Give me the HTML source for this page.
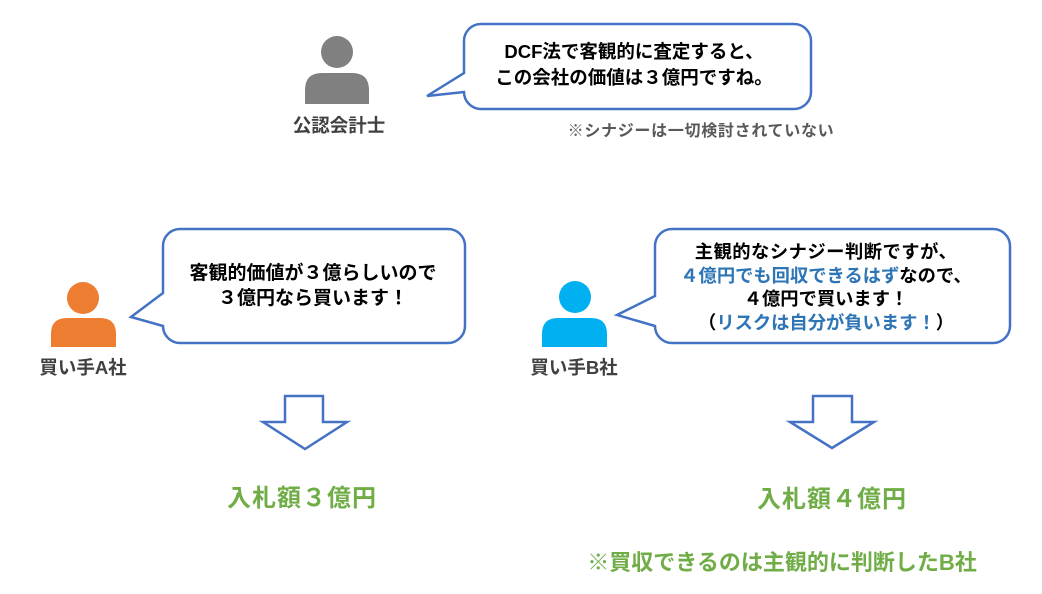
<!DOCTYPE html>
<html>
<head>
<meta charset="utf-8">
<style>
  html, body { margin:0; padding:0; }
  body { width:1042px; height:594px; background:#ffffff; position:relative; overflow:hidden;
         font-family:"Liberation Sans","Noto Sans CJK JP",sans-serif; font-weight:bold; }
  svg { position:absolute; left:0; top:0; }
  .t { position:absolute; text-align:center; white-space:nowrap; }
  .bub { color:#000; font-size:18.5px; }
  .lbl { color:#404040; font-size:18.5px; line-height:24px; }
  .blue { color:#2E75B6; }
  .green { color:#70AD47; }
</style>
</head>
<body>
<svg width="1042" height="594" viewBox="0 0 1042 594">
  <!-- bubbles -->
  <path d="M481,24 H794 A17,17 0 0 1 811,41 V92 A17,17 0 0 1 794,109 H481 A17,17 0 0 1 464,92 L427,96 L464,73 V41 A17,17 0 0 1 481,24 Z"
        fill="#fff" stroke="#4472C4" stroke-width="2.5" stroke-linejoin="miter"/>
  <path d="M180,229 H448 A17,17 0 0 1 465,246 V326 A17,17 0 0 1 448,343 H180 A17,17 0 0 1 163,326 L131,317 L163,293 V246 A17,17 0 0 1 180,229 Z"
        fill="#fff" stroke="#4472C4" stroke-width="2.5"/>
  <path d="M672,229 H993 A17,17 0 0 1 1010,246 V326 A17,17 0 0 1 993,343 H672 A17,17 0 0 1 655,326 L617,315 L655,296 V246 A17,17 0 0 1 672,229 Z"
        fill="#fff" stroke="#4472C4" stroke-width="2.5"/>
  <!-- arrows -->
  <path d="M285,396 H323 V422 H347 L305,449 L263,422 H285 Z" fill="#fff" stroke="#4472C4" stroke-width="2.5"/>
  <path d="M813,396 H852 V422 H874 L832,448 L790,422 H813 Z" fill="#fff" stroke="#4472C4" stroke-width="2.5"/>
  <!-- persons -->
  <circle cx="337" cy="52" r="16" fill="#808080"/>
  <path d="M305,104 V90 Q305,73 322,73 H352 Q369,73 369,90 V104 Z" fill="#808080"/>
  <circle cx="83" cy="298" r="16" fill="#ED7D31"/>
  <path d="M51,347 V334 Q51,318 67,318 H100 Q116,318 116,334 V347 Z" fill="#ED7D31"/>
  <circle cx="575" cy="297" r="16" fill="#00B0F0"/>
  <path d="M542,347 V334 Q542,318 558,318 H591 Q607,318 607,334 V347 Z" fill="#00B0F0"/>
</svg>

<!-- bubble 1 text -->
<div class="t bub" style="left:434px; width:400px; top:39px; line-height:26px; font-size:18.5px;">DCF法で客観的に査定すると、<br>この会社の価値は３億円ですね。</div>
<div class="t lbl" style="left:279px; width:120px; top:114px;">公認会計士</div>
<div class="t" style="left:551px; width:300px; top:121px; line-height:22px; font-size:16px; color:#595959; letter-spacing:0.7px;">※シナジーは一切検討されていない</div>

<!-- bubble A text -->
<div class="t bub" style="left:163px; width:300px; top:261px; line-height:25px; font-size:19px;">客観的価値が３億らしいので<br>３億円なら買います！</div>
<div class="t lbl" style="left:23px; width:120px; top:356px;">買い手A社</div>

<!-- bubble B text -->
<div class="t bub" style="left:666px; width:320px; top:240px; line-height:23.5px; font-size:18.3px;"><span style="letter-spacing:0.5px;">主観的なシナジー判断ですが、</span><br><span class="blue">４億円でも回収できるはず</span>なので、<br>４億円で買います！<br>（<span class="blue">リスクは自分が負います！</span>）</div>
<div class="t lbl" style="left:514px; width:120px; top:356px;">買い手B社</div>

<!-- results -->
<div class="t green" style="left:202px; width:200px; top:484px; line-height:30px; font-size:24px; letter-spacing:1px;">入札額３億円</div>
<div class="t green" style="left:732px; width:200px; top:485px; line-height:30px; font-size:24px; letter-spacing:1px;">入札額４億円</div>
<div class="t green" style="left:562px; width:440px; top:550px; line-height:26px; font-size:22px;">※買収できるのは主観的に判断したB社</div>
</body>
</html>
